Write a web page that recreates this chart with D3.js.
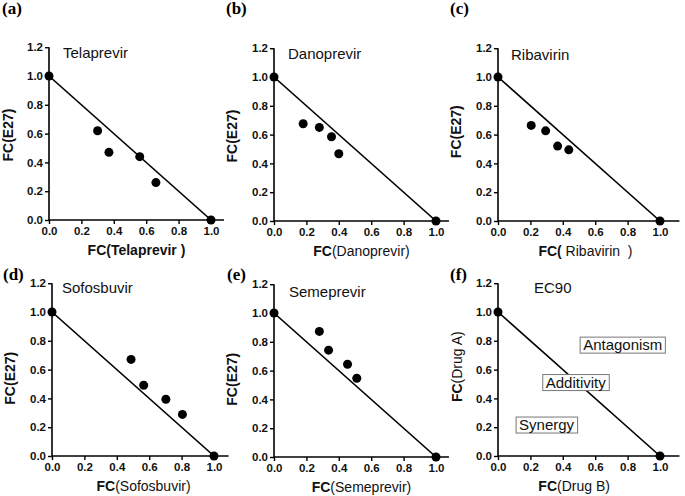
<!DOCTYPE html>
<html>
<head>
<meta charset="utf-8">
<script src="https://cdn.jsdelivr.net/npm/d3@7"></script>
<style>
  html, body { margin: 0; padding: 0; background: #fff; }
  svg { display: block; }
</style>
</head>
<body>
<svg id="chart" width="685" height="496"></svg>
<script>
// ---------- data ----------
const panelTags = ["(a)", "(b)", "(c)", "(d)", "(e)", "(f)"];
const panelTitles = ["Telaprevir", "Danoprevir", "Ribavirin", "Sofosbuvir", "Semeprevir", "EC90"];
const isoboleX = [0, 1];
const isoboleY = [1, 0];
const telaprevirX = [0.30, 0.37, 0.56, 0.66];
const telaprevirY = [0.62, 0.47, 0.44, 0.26];
const danoprevirX = [0.18, 0.28, 0.355, 0.40];
const danoprevirY = [0.675, 0.65, 0.585, 0.467];
const ribavirinX = [0.205, 0.294, 0.368, 0.437];
const ribavirinY = [0.664, 0.626, 0.52, 0.494];
const sofosbuvirX = [0.488, 0.566, 0.703, 0.805];
const sofosbuvirY = [0.671, 0.491, 0.394, 0.289];
const semeprevirX = [0.28, 0.337, 0.454, 0.511];
const semeprevirY = [0.872, 0.742, 0.644, 0.547];
const ec90X = [];
const ec90Y = [];
const xTicks = [0, 0.2, 0.4, 0.6, 0.8, 1.0];
const yTicks = [0, 0.2, 0.4, 0.6, 0.8, 1.0, 1.2];
const yLabels = ["FC(E27)", "FC(E27)", "FC(E27)", "FC(E27)", "FC(E27)", "FC(Drug A)"];
const xLabelParts = [
  [["FC(Telaprevir )", true]],
  [["FC", true], ["(Danoprevir)", false]],
  [["FC(", true], [" Ribavirin  )", false]],
  [["FC", true], ["(Sofosbuvir)", false]],
  [["FC", true], ["(Semeprevir)", false]],
  [["FC", true], ["(Drug B)", false]]
];
const regionLabels = ["Antagonism", "Additivity", "Synergy"];
const regionX = [0.77, 0.48, 0.30];
const regionY = [0.77, 0.51, 0.215];

const seriesX = [telaprevirX, danoprevirX, ribavirinX, sofosbuvirX, semeprevirX, ec90X];
const seriesY = [telaprevirY, danoprevirY, ribavirinY, sofosbuvirY, semeprevirY, ec90Y];

// ---------- layout ----------
const layout = [
  { ox: 49,  oy: 220, xEnd: 1.08, tagX: 2,   tagY: 14,  titleDx: 14, titleDy: 162, xlabC: 0.54, ylabC: 0.59, ylabDx: -36 },
  { ox: 274, oy: 221, xEnd: 1.08, tagX: 226, tagY: 14,  titleDx: 14, titleDy: 162, xlabC: 0.54, ylabC: 0.59, ylabDx: -37 },
  { ox: 498, oy: 221, xEnd: 1.12, tagX: 450, tagY: 14,  titleDx: 13, titleDy: 161, xlabC: 0.54, ylabC: 0.62, ylabDx: -37 },
  { ox: 52,  oy: 456, xEnd: 1.09, tagX: 3,   tagY: 280, titleDx: 10, titleDy: 163, xlabC: 0.565, ylabC: 0.54, ylabDx: -37 },
  { ox: 274, oy: 457, xEnd: 1.08, tagX: 227, tagY: 280, titleDx: 15, titleDy: 160, xlabC: 0.54, ylabC: 0.54, ylabDx: -37 },
  { ox: 498, oy: 456, xEnd: 1.12, tagX: 450, tagY: 280, titleDx: 36, titleDy: 163, xlabC: 0.47, ylabC: 0.62, ylabDx: -36 }
];
const W = 162, H = 144;

const svg = d3.select("#chart");
const sans = "'Liberation Sans', Arial, sans-serif";

layout.forEach((L, i) => {
  const x = d3.scaleLinear().domain([0, 1]).range([L.ox, L.ox + W]);
  const y = d3.scaleLinear().domain([0, 1]).range([L.oy, L.oy - H]);
  const g = svg.append("g");

  // panel tag
  svg.append("text").attr("x", L.tagX).attr("y", L.tagY)
    .attr("font-family", "'Liberation Serif', 'Times New Roman', serif")
    .attr("font-weight", "bold").attr("font-size", 17).text(panelTags[i]);

  // x axis
  const xa = g.append("g").attr("transform", `translate(0,${L.oy})`)
    .call(d3.axisBottom(x).tickValues(xTicks).tickFormat(d3.format(".1f")).tickSizeOuter(0).tickSize(4).tickPadding(3));
  xa.select(".domain").remove();
  xa.append("line").attr("x1", x(0)).attr("x2", x(L.xEnd)).attr("y1", 0).attr("y2", 0)
    .attr("stroke", "#000").attr("stroke-width", 1.6);
  // y axis
  const ya = g.append("g").attr("transform", `translate(${L.ox},0)`)
    .call(d3.axisLeft(y).tickValues(yTicks).tickFormat(d3.format(".1f")).tickSizeOuter(0).tickSize(4).tickPadding(2));
  ya.select(".domain").remove();
  ya.append("line").attr("x1", 0).attr("x2", 0).attr("y1", y(0)).attr("y2", y(1.2))
    .attr("stroke", "#000").attr("stroke-width", 1.6);

  [xa, ya].forEach(a => {
    a.selectAll(".tick line").attr("stroke", "#000").attr("stroke-width", 1.4);
    a.selectAll(".tick text").attr("fill", "#111").attr("font-family", sans)
      .attr("font-weight", "bold").attr("font-size", 11.5);
  });

  // isobole line
  g.append("path")
    .datum(isoboleX.map((v, k) => [v, isoboleY[k]]))
    .attr("d", d3.line().x(d => x(d[0])).y(d => y(d[1])))
    .attr("stroke", "#000").attr("stroke-width", 1.6).attr("fill", "none");

  // points: endpoints + combination data
  const pts = isoboleX.map((v, k) => [v, isoboleY[k]])
    .concat(seriesX[i].map((v, k) => [v, seriesY[i][k]]));
  g.selectAll("circle.pt").data(pts).enter().append("circle")
    .attr("class", "pt").attr("cx", d => x(d[0])).attr("cy", d => y(d[1]))
    .attr("r", 4.5).attr("fill", "#000");

  // title
  g.append("text").attr("x", L.ox + L.titleDx).attr("y", L.oy - L.titleDy)
    .attr("font-family", sans).attr("font-size", 15).attr("fill", "#111")
    .text(panelTitles[i]);

  // x label
  const xl = g.append("text").attr("x", x(L.xlabC)).attr("y", L.oy + 35)
    .attr("text-anchor", "middle").attr("font-family", sans).attr("font-size", 14).attr("fill", "#111");
  xLabelParts[i].forEach(p => {
    xl.append("tspan").attr("font-weight", p[1] ? "bold" : "normal").attr("xml:space", "preserve").text(p[0]);
  });

  // y label
  const yl = g.append("text")
    .attr("transform", `translate(${L.ox + L.ylabDx},${y(L.ylabC)}) rotate(-90)`)
    .attr("text-anchor", "middle").attr("font-family", sans).attr("font-size", 14).attr("fill", "#111");
  if (i === 5) {
    yl.append("tspan").attr("font-weight", "bold").text("FC");
    yl.append("tspan").attr("font-weight", "normal").text("(Drug A)");
  } else {
    yl.attr("font-weight", "bold").text(yLabels[i]);
  }

  // region labels (EC90 panel)
  if (i === 5) {
    regionLabels.forEach((lab, k) => {
      const t = g.append("text").attr("x", x(regionX[k])).attr("y", y(regionY[k]) + 5)
        .attr("text-anchor", "middle").attr("font-family", sans).attr("font-size", 15)
        .attr("fill", "#111").text(lab);
      const bb = t.node().getBBox();
      g.insert("rect", () => t.node())
        .attr("x", bb.x - 3).attr("y", bb.y + 1).attr("width", bb.width + 6).attr("height", bb.height - 1)
        .attr("fill", "#fff").attr("stroke", "#777").attr("stroke-width", 1);
    });
  }
});
</script>
</body>
</html>
